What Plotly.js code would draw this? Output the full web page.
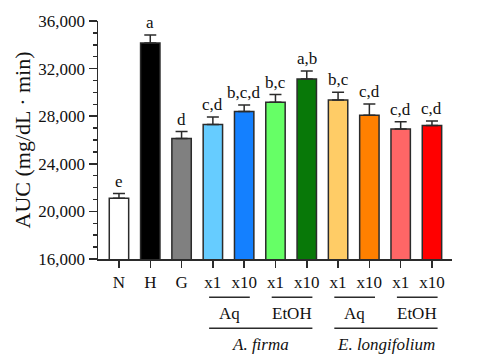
<!DOCTYPE html>
<html>
<head>
<meta charset="utf-8">
<script src="https://cdn.plot.ly/plotly-3.0.1.min.js"></script>
<style>html,body{margin:0;padding:0;background:#fff;}#chart{width:484px;height:359px;}</style>
</head>
<body>
<div id="chart"></div>
<script>
var categories = ["N", "H", "G", "x1", "x10", "x1", "x10", "x1", "x10", "x1", "x10"];
var aucValues = [21100, 34150, 26120, 27300, 28390, 29170, 31130, 29360, 28080, 26920, 27210];
var aucErrors = [400, 670, 590, 640, 550, 650, 670, 650, 950, 620, 390];
var sigLetters = ["e", "a", "d", "c,d", "b,c,d", "b,c", "a,b", "b,c", "c,d", "c,d", "c,d"];
var barColors = ["#ffffff", "#000000", "#808080", "#66ccff", "#1480ff", "#66ff66", "#087808", "#ffcc66", "#ff8000", "#ff6666", "#ff0000"];
var solventGroups = [{label: "Aq", from: 3, to: 4}, {label: "EtOH", from: 5, to: 6}, {label: "Aq", from: 7, to: 8}, {label: "EtOH", from: 9, to: 10}];
var plantGroups = [{label: "A. firma", from: 3, to: 6}, {label: "E. longifolium", from: 7, to: 10}];

var xIdx = categories.map(function(_, i){ return i; });
var font = "Liberation Serif, Times New Roman, serif";
var ink = "#2b2b2b";
var fs = 17;

var trace = {
  type: "bar",
  x: xIdx,
  y: aucValues,
  width: 0.62,
  marker: {color: barColors, line: {color: ink, width: 1.5}},
  error_y: {type: "data", symmetric: false, array: aucErrors, arrayminus: aucErrors.map(function(){return 0;}), color: ink, thickness: 1.5, width: 6},
  hoverinfo: "none"
};

var annotations = [];
var shapes = [];
for (var i = 0; i < categories.length; i++) {
  annotations.push({x: i, y: aucValues[i] + aucErrors[i], xref: "x", yref: "y", text: sigLetters[i], showarrow: false, yanchor: "bottom", yshift: 1, font: {family: font, size: fs, color: "#111"}});
}
solventGroups.forEach(function(g){
  shapes.push({type: "line", xref: "x", yref: "paper", x0: g.from - 0.12, x1: g.to + 0.18, y0: -0.161, y1: -0.161, line: {color: ink, width: 1.5}});
  annotations.push({x: (g.from + g.to) / 2 + 0.03, y: -0.231, xref: "x", yref: "paper", text: g.label, showarrow: false, yanchor: "middle", font: {family: font, size: fs, color: "#111"}});
});
plantGroups.forEach(function(g){
  shapes.push({type: "line", xref: "x", yref: "paper", x0: g.from - 0.12, x1: g.to + 0.18, y0: -0.291, y1: -0.291, line: {color: ink, width: 1.5}});
  annotations.push({x: (g.from + g.to) / 2 + 0.03, y: -0.36, xref: "x", yref: "paper", text: "<i>" + g.label + "</i>", showarrow: false, yanchor: "middle", font: {family: font, size: fs, color: "#111"}});
});

var layout = {
  width: 484, height: 359,
  margin: {l: 98, r: 32, t: 21, b: 100},
  paper_bgcolor: "#fff", plot_bgcolor: "#fff",
  showlegend: false,
  font: {family: font, size: fs, color: "#111"},
  xaxis: {
    range: [-0.67, 10.64],
    tickvals: xIdx, ticktext: categories,
    showline: true, linecolor: ink, linewidth: 1.5,
    ticks: "outside", ticklen: 7, tickwidth: 1.5, tickcolor: ink,
    showgrid: false, zeroline: false, fixedrange: true,
    tickfont: {family: font, size: fs, color: "#111"}
  },
  yaxis: {
    range: [16000, 36000],
    tickvals: [16000, 20000, 24000, 28000, 32000, 36000],
    tickformat: ",d",
    showline: true, linecolor: ink, linewidth: 1.5,
    ticks: "outside", ticklen: 8, tickwidth: 1.5, tickcolor: ink,
    minor: {dtick: 1000, ticks: "outside", ticklen: 4, tickwidth: 1.5, tickcolor: ink, showgrid: false},
    showgrid: false, zeroline: false, fixedrange: true,
    tickfont: {family: font, size: fs, color: "#111"},
    title: {text: "AUC (mg/dL · min)", font: {family: font, size: 22, color: "#111"}, standoff: 1}
  },
  shapes: shapes,
  annotations: annotations
};

Plotly.newPlot("chart", [trace], layout, {displayModeBar: false, staticPlot: true});
</script>
</body>
</html>
